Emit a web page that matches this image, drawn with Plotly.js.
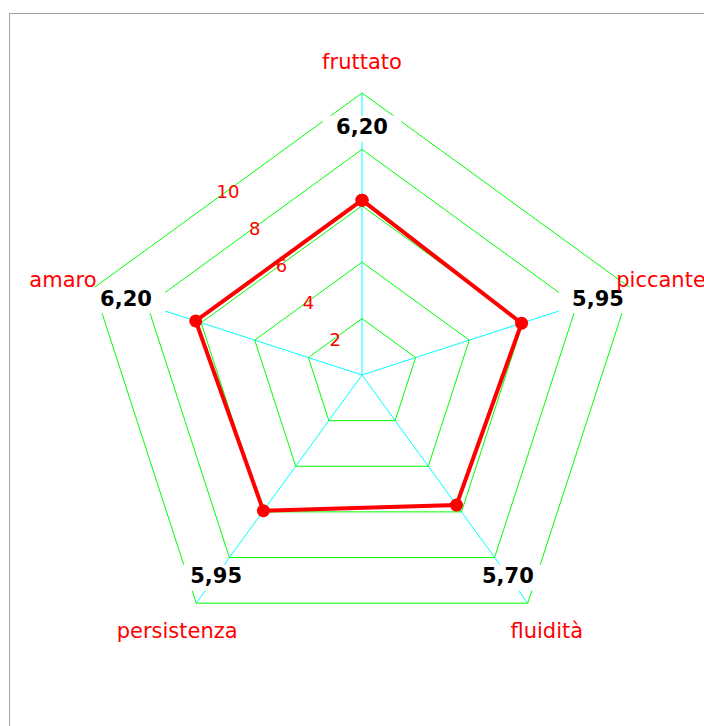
<!DOCTYPE html>
<html>
<head>
<meta charset="utf-8">
<script src="https://cdn.plot.ly/plotly-3.0.1.min.js"></script>
<style>
html,body{margin:0;padding:0;background:#fff;overflow:hidden;}
#chart{position:absolute;left:0;top:0;width:704px;height:726px;}
#frame{position:absolute;left:9px;top:13px;right:-5px;bottom:-5px;border-left:1px solid #a0a0a0;border-top:1px solid #a0a0a0;pointer-events:none;z-index:5;}
</style>
</head>
<body>
<div id="chart"></div>
<div id="frame"></div>
<script>
const categories = ['fruttato', 'piccante', 'fluidità', 'persistenza', 'amaro'];
const values = [6.20, 5.95, 5.70, 5.95, 6.20];
const valueLabels = ['6,20', '5,95', '5,70', '5,95', '6,20'];
const radialTicks = [2, 4, 6, 8, 10];
const radialTickLabels = ['2', '4', '6', '8', '10'];

const W = 704, H = 726;
const cx = 362, cy = 375, R = 282;
const rMax = 10, rMax2 = 12;
const R2 = R * rMax2 / rMax;
function dom(x0, y0, rad) {
  return {x: [(x0 - rad) / W, (x0 + rad) / W], y: [1 - (y0 + rad) / H, 1 - (y0 - rad) / H]};
}
const domain = dom(cx, cy, R);
const domain2 = dom(cx, cy + 2, R2);
const domain3 = dom(cx, cy + 3.5, R2);

const step = 360 / categories.length;
const catAngles = categories.map((c, i) => i * step);
const font = '"DejaVu Sans", Verdana, sans-serif';

const traces = [
  {
    type: 'scatterpolar', subplot: 'polar',
    r: values.concat([values[0]]),
    theta: categories.concat([categories[0]]),
    mode: 'lines+markers',
    line: {color: '#ff0000', width: 4},
    marker: {color: '#ff0000', size: 13},
    hoverinfo: 'skip'
  },
  {
    type: 'scatterpolar', subplot: 'polar2',
    r: categories.map(() => 8.8),
    theta: catAngles,
    mode: 'markers+text',
    text: valueLabels,
    textposition: 'middle center',
    textfont: {family: font, size: 21, color: '#000000', weight: 'bold'},
    marker: {symbol: 'line-ew', size: 56, color: '#ffffff', line: {color: '#ffffff', width: 26}},
    cliponaxis: false,
    hoverinfo: 'skip'
  },
  {
    type: 'scatterpolar', subplot: 'polar3',
    r: categories.map(() => 11.15),
    theta: catAngles,
    mode: 'text',
    text: categories,
    textposition: 'middle center',
    textfont: {family: font, size: 21, color: '#ff0000'},
    cliponaxis: false,
    hoverinfo: 'skip'
  },
  {
    type: 'scatterpolar', subplot: 'polar3',
    r: radialTicks.map(t => t * Math.cos(Math.PI * step / 2 / 180)),
    theta: radialTicks.map(() => 360 - step / 2),
    mode: 'text',
    text: radialTickLabels,
    textposition: 'middle center',
    textfont: {family: font, size: 18, color: '#ff0000'},
    cliponaxis: false,
    hoverinfo: 'skip'
  }
];

const overlay = (d) => ({
  domain: d,
  bgcolor: 'rgba(0,0,0,0)',
  radialaxis: {range: [0, rMax2], visible: false},
  angularaxis: {type: 'linear', thetaunit: 'degrees', rotation: 90, direction: 'clockwise', visible: false}
});

const layout = {
  width: W, height: H,
  margin: {l: 0, r: 0, t: 0, b: 0},
  paper_bgcolor: '#ffffff',
  showlegend: false,
  hovermode: false,
  font: {family: font},
  polar: {
    domain: domain,
    bgcolor: '#ffffff',
    gridshape: 'linear',
    radialaxis: {
      range: [0, rMax], tickvals: radialTicks, showticklabels: false, ticks: '',
      showline: false, gridcolor: '#00ff00', gridwidth: 1
    },
    angularaxis: {
      type: 'category', categoryarray: categories, rotation: 90, direction: 'clockwise',
      showticklabels: false, ticks: '', showline: true, linecolor: '#00ff00', linewidth: 1,
      gridcolor: '#00ffff', gridwidth: 1
    }
  },
  polar2: overlay(domain2),
  polar3: overlay(domain3)
};

Plotly.newPlot('chart', traces, layout, {displayModeBar: false, staticPlot: true});
</script>
</body>
</html>
